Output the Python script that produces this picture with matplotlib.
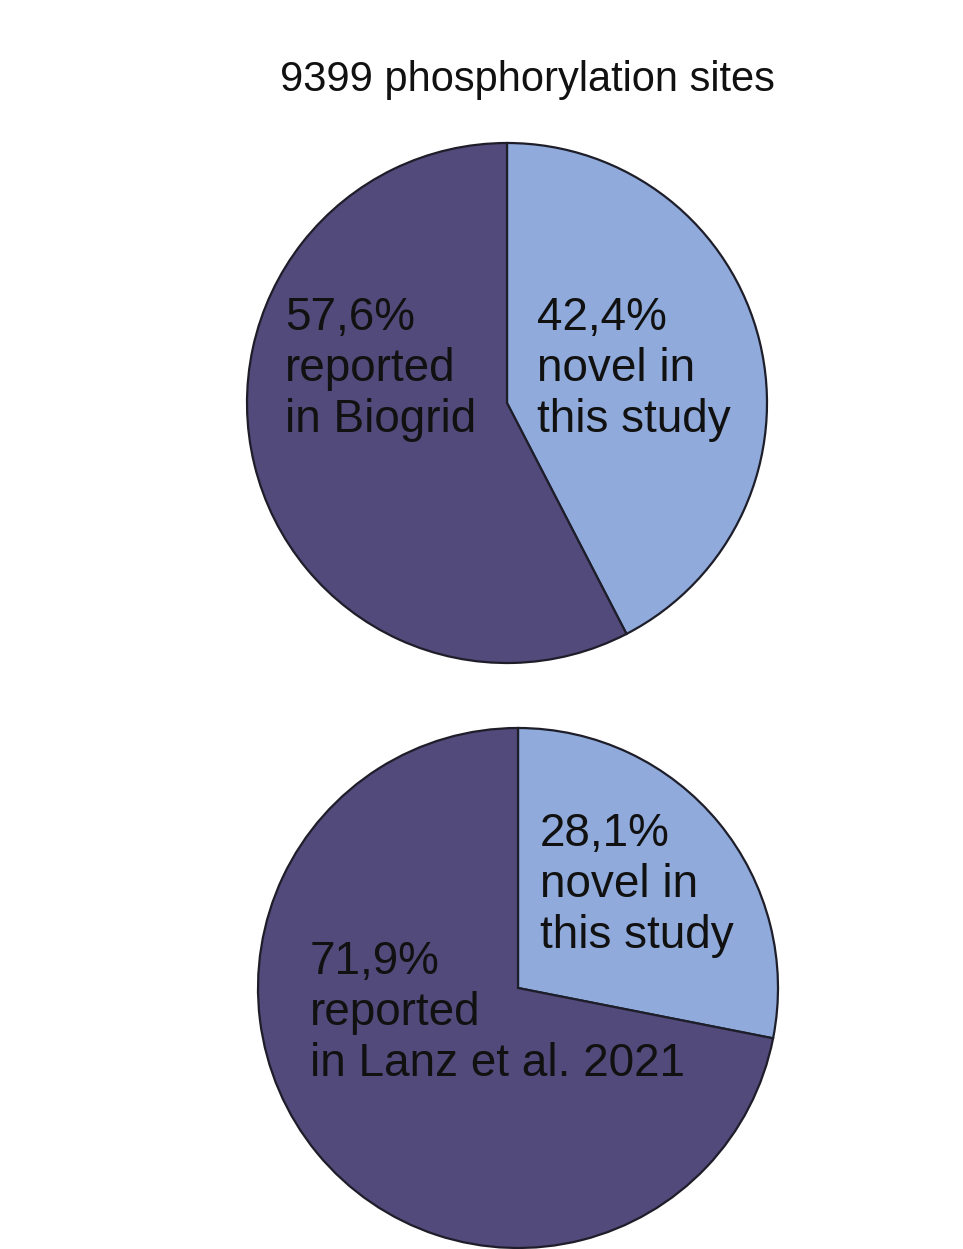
import matplotlib.pyplot as plt

title = "9399 phosphorylation sites"
biogrid_values = [42.4, 57.6]
biogrid_labels = ["42,4%\nnovel in\nthis study", "57,6%\nreported\nin Biogrid"]
lanz_values = [28.1, 71.9]
lanz_labels = ["28,1%\nnovel in\nthis study", "71,9%\nreported\nin Lanz et al. 2021"]

light = "#8faadb"
dark = "#524a7a"
W, H = 963, 1249

fig = plt.figure(figsize=(W / 100, H / 100), dpi=100)
ax = fig.add_axes([0, 0, 1, 1])
ax.set_xlim(0, W)
ax.set_ylim(0, H)
ax.set_aspect("equal")
ax.axis("off")

wp = dict(edgecolor="#1e1e2a", linewidth=1.6)
ax.pie(biogrid_values, colors=[light, dark], startangle=90, counterclock=False,
       center=(507, H - 403), radius=260, wedgeprops=wp, frame=True)
ax.pie(lanz_values, colors=[light, dark], startangle=90, counterclock=False,
       center=(518, H - 988), radius=260, wedgeprops=wp, frame=True)
ax.set_xlim(0, W)
ax.set_ylim(0, H)
ax.axis("off")

font = dict(family="Liberation Sans", fontsize=33, linespacing=1.2, color="#111111",
            ha="left", va="top")
ax.text(527, H - 80, title, family="Liberation Sans", fontsize=30, ha="center",
        va="center", color="#111111")
ax.text(537, H - 296, biogrid_labels[0], **font)
ax.text(285, H - 296, biogrid_labels[1], **font)
ax.text(540, H - 812, lanz_labels[0], **font)
ax.text(310, H - 940, lanz_labels[1], **font)

fig.savefig("out.png", dpi=100)
